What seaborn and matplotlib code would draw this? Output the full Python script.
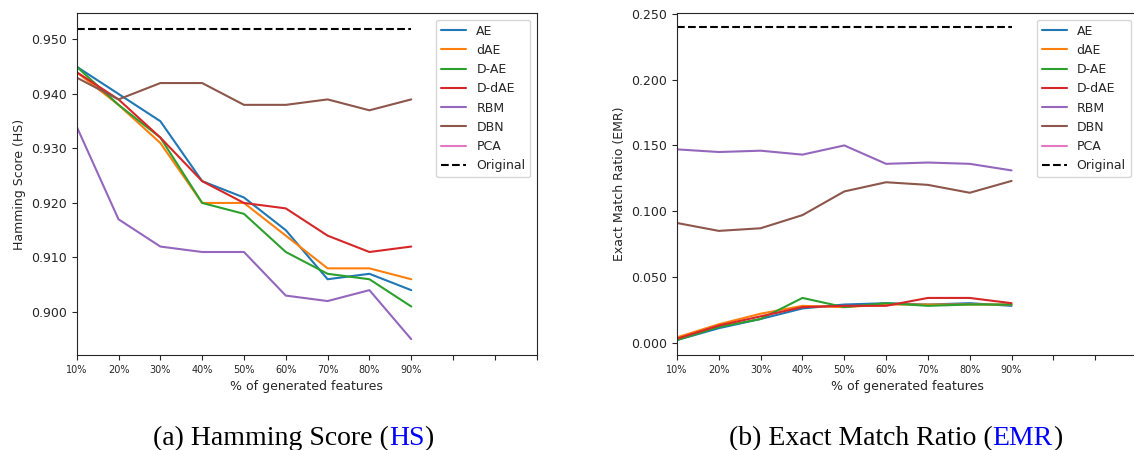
import numpy as np
import seaborn as sns
import matplotlib.pyplot as plt
from matplotlib.ticker import FormatStrFormatter

# x positions: 10% ... 90% of generated features
pct_labels = ["10%", "20%", "30%", "40%", "50%", "60%", "70%", "80%", "90%"]
methods = ["AE", "dAE", "D-AE", "D-dAE", "RBM", "DBN", "PCA"]
colors = ["#1f77b4", "#ff7f0e", "#2ca02c", "#d62728", "#9467bd", "#8c564b", "#e377c2"]

# Hamming score
hs_ae = [0.945, 0.940, 0.935, 0.924, 0.921, 0.915, 0.906, 0.907, 0.904]
hs_dae = [0.944, 0.938, 0.931, 0.920, 0.920, 0.914, 0.908, 0.908, 0.906]
hs_d_ae = [0.945, 0.938, 0.932, 0.920, 0.918, 0.911, 0.907, 0.906, 0.901]
hs_d_dae = [0.944, 0.939, 0.932, 0.924, 0.920, 0.919, 0.914, 0.911, 0.912]
hs_rbm = [0.934, 0.917, 0.912, 0.911, 0.911, 0.903, 0.902, 0.904, 0.895]
hs_dbn = [0.943, 0.939, 0.942, 0.942, 0.938, 0.938, 0.939, 0.937, 0.939]
hs_pca = [np.nan, np.nan, np.nan, np.nan, np.nan, np.nan, np.nan, np.nan, np.nan]  # not visible
hs_original = 0.952

# Exact match ratio
emr_ae = [0.002, 0.011, 0.018, 0.026, 0.029, 0.030, 0.029, 0.030, 0.028]
emr_dae = [0.004, 0.014, 0.022, 0.028, 0.027, 0.029, 0.029, 0.029, 0.029]
emr_d_ae = [0.002, 0.012, 0.018, 0.034, 0.027, 0.030, 0.028, 0.029, 0.029]
emr_d_dae = [0.003, 0.013, 0.020, 0.027, 0.028, 0.028, 0.034, 0.034, 0.030]
emr_rbm = [0.147, 0.145, 0.146, 0.143, 0.150, 0.136, 0.137, 0.136, 0.131]
emr_dbn = [0.091, 0.085, 0.087, 0.097, 0.115, 0.122, 0.120, 0.114, 0.123]
emr_pca = [np.nan, np.nan, np.nan, np.nan, np.nan, np.nan, np.nan, np.nan, np.nan]  # not visible
emr_original = 0.240

sns.set_style("ticks")
plt.rcParams['font.family'] = ['DejaVu Sans']

W, H = 1134, 450
fig = plt.figure(figsize=(W / 100, H / 100), dpi=100)
ax1 = fig.add_axes([76.7 / W, 95 / H, 460 / W, 341.7 / H])
ax2 = fig.add_axes([677 / W, 95 / H, 460 / W, 341.7 / H])  # runs past the right edge, as in the source


def draw_panel(ax, series, original, ylabel, ylim, yticks):
    x = np.arange(len(pct_labels))
    for name, vals, c in zip(methods, series, colors):
        vals = np.asarray(vals, dtype=float)
        if np.all(np.isnan(vals)):
            # seaborn drops all-NaN series, keep the legend entry anyway
            ax.plot(x, vals, color=c, lw=1.5, label=name)
        else:
            sns.lineplot(x=x, y=vals, color=c, lw=1.5, label=name, ax=ax)
    sns.lineplot(x=x, y=[original] * len(x), color="black", lw=1.5,
                 linestyle="--", label="Original", ax=ax)
    ax.set_xlim(0, 11)
    ax.set_xticks(np.arange(12))
    ax.set_xticklabels(pct_labels + ["", "", ""], fontsize=7)
    ax.set_ylim(*ylim)
    ax.set_yticks(yticks)
    ax.yaxis.set_major_formatter(FormatStrFormatter("%.3f"))
    ax.tick_params(axis="y", labelsize=9)
    ax.set_xlabel("% of generated features", fontsize=9)
    ax.set_ylabel(ylabel, fontsize=9)
    for s in ax.spines.values():
        s.set_visible(True)
        s.set_linewidth(0.8)
    ax.legend(loc="upper right", fontsize=9, frameon=True)


draw_panel(ax1, [hs_ae, hs_dae, hs_d_ae, hs_d_dae, hs_rbm, hs_dbn, hs_pca], hs_original,
           "Hamming Score (HS)", (0.8921, 0.9548), np.arange(0.900, 0.9501, 0.01))
draw_panel(ax2, [emr_ae, emr_dae, emr_d_ae, emr_d_dae, emr_rbm, emr_dbn, emr_pca], emr_original,
           "Exact Match Ratio (EMR)", (-0.0094, 0.2505), np.arange(0.0, 0.2501, 0.05))


def caption(x_px, parts):
    # chain text pieces so the acronym can be coloured blue
    prev = fig.text(x_px / W, 1 - 445 / H, parts[0][0], color=parts[0][1],
                    family="Liberation Serif", fontsize=20, va="baseline", ha="left")
    for txt, col in parts[1:]:
        prev = ax1.annotate(txt, xy=(1, 0), xycoords=prev, va="bottom", ha="left",
                            color=col, family="Liberation Serif", fontsize=20,
                            annotation_clip=False)


caption(153, [("(a) Hamming Score (", "black"), ("HS", "blue"), (")", "black")])
caption(729, [("(b) Exact Match Ratio (", "black"), ("EMR", "blue"), (")", "black")])

fig.savefig("out.png", dpi=100)
